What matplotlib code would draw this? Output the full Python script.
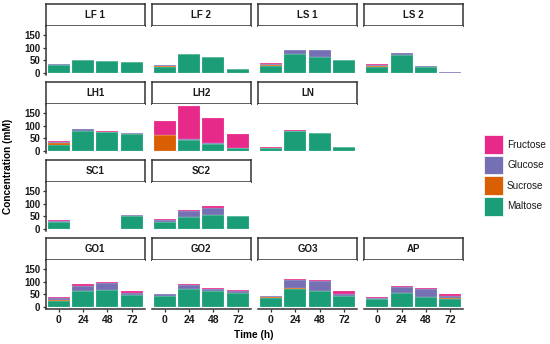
import numpy as np
import matplotlib
matplotlib.use("Agg")
import matplotlib.pyplot as plt
from matplotlib.patches import Rectangle

plt.rcParams["font.family"] = ["Liberation Sans", "DejaVu Sans"]

# Data (mM), time points 0, 24, 48, 72 h; nan = not measured
times = [0, 24, 48, 72]
panels = ["LF 1", "LF 2", "LS 1", "LS 2", "LH1", "LH2", "LN",
          "SC1", "SC2", "GO1", "GO2", "GO3", "AP"]
nan = np.nan

maltose = [
    [30, 51, 48, 45],    # LF 1
    [24, 75, 62, 16],    # LF 2
    [28, 75, 65, 50],    # LS 1
    [24, 73, 22, 1],     # LS 2
    [25, 80, 74, 68],    # LH1
    [0, 43, 28, 12],     # LH2
    [13, 80, 70, 14],    # LN
    [27, nan, nan, 52],  # SC1
    [26, 47, 55, 50],    # SC2
    [22, 65, 67, 47],    # GO1
    [42, 70, 65, 55],    # GO2
    [35, 72, 63, 43],    # GO3
    [30, 54, 40, 33],    # AP
]
sucrose = [
    [3, 0, 0, 0],
    [5, 0, 0, 0],
    [5, 0, 0, 0],
    [5, 0, 0, 0],
    [6, 0, 0, 0],
    [65, 0, 0, 0],
    [0, 0, 0, 0],
    [0, nan, nan, 0],
    [2, 0, 0, 0],
    [6, 0, 2, 0],
    [2, 2, 0, 2],
    [3, 2, 0, 0],
    [3, 0, 0, 2],
]
glucose = [
    [2, 0, 0, 0],
    [2, 0, 0, 0],
    [3, 18, 26, 2],
    [4, 7, 7, 1],
    [4, 6, 2, 2],
    [0, 3, 5, 0],
    [0, 0, 1, 0],
    [6, nan, nan, 3],
    [6, 23, 30, 2],
    [8, 20, 26, 7],
    [6, 15, 6, 5],
    [7, 33, 40, 10],
    [4, 25, 30, 8],
]
fructose = [
    [2, 0, 0, 0],
    [2, 0, 0, 0],
    [2, 0, 2, 0],
    [2, 0, 0, 0],
    [3, 2, 2, 0],
    [55, 135, 99, 55],
    [3, 2, 2, 3],
    [4, nan, nan, 0],
    [4, 5, 5, 0],
    [4, 5, 5, 8],
    [0, 3, 6, 6],
    [0, 5, 5, 9],
    [3, 4, 5, 7],
]

sugars = ["Maltose", "Sucrose", "Glucose", "Fructose"]
colors = {"Maltose": "#1B9E77", "Sucrose": "#D95F02",
          "Glucose": "#7570B3", "Fructose": "#E7298A"}
values = {"Maltose": maltose, "Sucrose": sucrose,
          "Glucose": glucose, "Fructose": fructose}

# grid position of each panel (row, col)
grid = [(0, 0), (0, 1), (0, 2), (0, 3), (1, 0), (1, 1), (1, 2),
        (2, 0), (2, 1), (3, 0), (3, 1), (3, 2), (3, 3)]

W, H = 550, 344
fig = plt.figure(figsize=(5.5, 3.44), dpi=100)

col_left = [45.7, 151.7, 258.0, 364.3]
pw = 99.0
strip_top0 = 4.3
strip_h = 21.4
ax_h = 49.5
pitch = 78.0
edge = "#333333"

for i, name in enumerate(panels):
    r, c = grid[i]
    x0 = col_left[c]
    st = strip_top0 + pitch * r
    # strip
    sax = fig.add_axes([x0 / W, 1 - (st + strip_h) / H, pw / W, strip_h / H])
    sax.set_xticks([])
    sax.set_yticks([])
    for s in sax.spines.values():
        s.set_color(edge)
        s.set_linewidth(1.1)
    sax.text(0.5, 0.5, name, ha="center", va="center",
             fontsize=7, fontweight="bold", color="#1a1a1a")
    # panel
    ax = fig.add_axes([x0 / W, 1 - (st + strip_h + ax_h) / H, pw / W, ax_h / H])
    bottom = np.zeros(len(times))
    for sg in sugars:
        v = np.array(values[sg][i], dtype=float)
        ok = ~np.isnan(v)
        t = np.array(times)[ok]
        ax.bar(t, v[ok], width=21.6, bottom=bottom[ok],
               color=colors[sg], edgecolor=(1, 1, 1, 0.5), linewidth=0.25)
        bottom[ok] += v[ok]
    ax.set_xlim(-12.6, 84.6)
    ax.set_ylim(-9, 189)
    ax.set_yticks([0, 50, 100, 150])
    ax.set_xticks(times)
    for s in ["top", "right"]:
        ax.spines[s].set_visible(False)
    ax.spines["left"].set_color(edge)
    ax.spines["bottom"].set_color(edge)
    ax.tick_params(colors=edge, length=2.5, width=0.9, pad=1.5)
    if c == 0:
        ax.set_yticklabels(["0", "50", "100", "150"], fontsize=7,
                           fontweight="bold", color="#1a1a1a")
        ax.spines["left"].set_linewidth(1.1)
    else:
        ax.spines["left"].set_visible(False)
        ax.tick_params(axis="y", left=False, labelleft=False)
    if r == 3:
        ax.set_xticklabels([str(t) for t in times], fontsize=7.5,
                           fontweight="bold", color="#1a1a1a")
        ax.spines["bottom"].set_linewidth(1.1)
    else:
        ax.spines["bottom"].set_visible(False)
        ax.tick_params(axis="x", bottom=False, labelbottom=False)

fig.text(8 / W, 1 - 166 / H, "Concentration (mM)", rotation=90,
         ha="center", va="center", fontsize=7.3, fontweight="bold")
fig.text(254 / W, 1 - 335 / H, "Time (h)", ha="center", va="center",
         fontsize=7.3, fontweight="bold")

# legend
leg_x = 484
leg_y = [135, 155.7, 176.3, 197]
for lab, y in zip(["Fructose", "Glucose", "Sucrose", "Maltose"], leg_y):
    fig.patches.append(Rectangle((leg_x / W, 1 - (y + 18.5) / H), 19 / W, 18.5 / H,
                                 transform=fig.transFigure,
                                 facecolor=colors[lab], edgecolor="white",
                                 linewidth=0.5))
    fig.text(507 / W, 1 - (y + 9.5) / H, lab, ha="left", va="center",
             fontsize=7.2, color="#1a1a1a")

fig.savefig("out.png", dpi=100)
